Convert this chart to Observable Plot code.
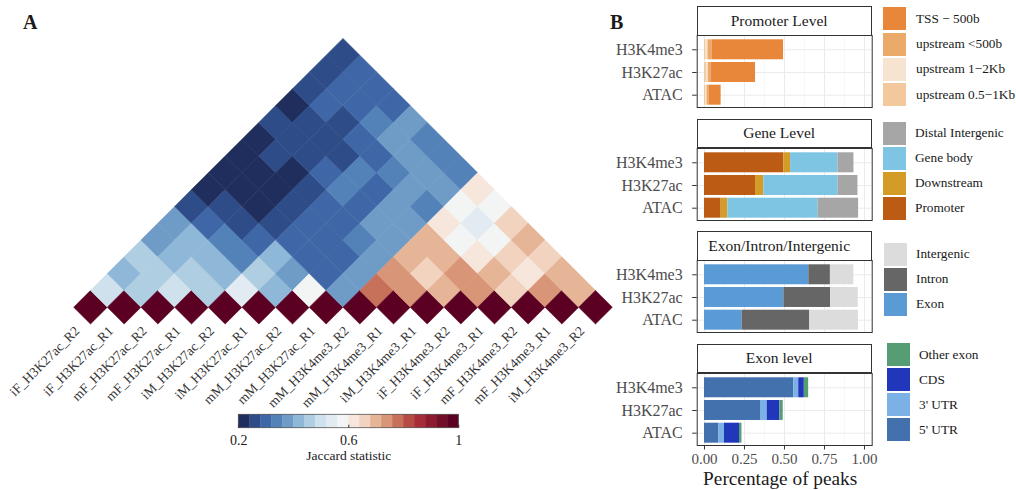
<!DOCTYPE html>
<html><head><meta charset="utf-8">
<script src="https://cdn.jsdelivr.net/npm/d3@7"></script>
<script src="https://cdn.jsdelivr.net/npm/@observablehq/plot@0.6"></script>
<style>
html,body{margin:0;padding:0;background:#fff;}
#root{position:relative;width:1016px;height:490px;overflow:hidden;background:#fff;font-family:"Liberation Serif","Times New Roman",serif;color:#1a1a1a;}
#root svg{position:absolute;}
.abs{position:absolute;white-space:nowrap;}
.strip{position:absolute;box-sizing:border-box;border:1px solid #333;background:#fff;display:flex;align-items:center;justify-content:center;font-size:15.5px;color:#1a1a1a;padding-right:10px;}
.sw{position:absolute;width:23px;height:23px;}
.lt{position:absolute;font-size:13.3px;color:#1a1a1a;white-space:nowrap;line-height:24px;height:24px;}
</style></head><body><div id="root"></div>
<script>
// ---------------- Panel A data ----------------
const sampleLabels = ["iF_H3K27ac_R2","iF_H3K27ac_R1","mF_H3K27ac_R2","mF_H3K27ac_R1","iM_H3K27ac_R2","iM_H3K27ac_R1","mM_H3K27ac_R2","mM_H3K27ac_R1","mM_H3K4me3_R2","mM_H3K4me3_R1","iM_H3K4me3_R1","iF_H3K4me3_R2","iF_H3K4me3_R1","mF_H3K4me3_R2","mF_H3K4me3_R1","iM_H3K4me3_R2"];
// upper triangle: row i lists Jaccard(i, j) for j = i+1 .. 15
const jaccardUpper = [
  [.50,.42,.46,.38,.38,.26,.22,.22,.22,.22,.26,.22,.26,.26,.26],
  [.46,.46,.42,.42,.30,.26,.22,.22,.26,.26,.26,.30,.30,.30],
  [.50,.46,.42,.34,.26,.22,.22,.22,.26,.26,.26,.30,.30],
  [.46,.42,.34,.30,.26,.26,.26,.30,.26,.30,.34,.30],
  [.54,.46,.42,.30,.30,.30,.34,.34,.30,.38,.38],
  [.42,.38,.30,.30,.30,.30,.30,.34,.38,.34],
  [.58,.30,.30,.34,.38,.38,.38,.38,.34],
  [.38,.38,.38,.38,.38,.34,.38,.34],
  [.78,.74,.70,.70,.62,.58,.62],
  [.74,.66,.70,.58,.54,.58],
  [.70,.74,.62,.58,.66],
  [.74,.70,.66,.70],
  [.66,.62,.66],
  [.74,.70],
  [.70],
  []
];
const selfJaccard = 1;
const jaccardBreaks = [0.24,0.28,0.32,0.36,0.40,0.44,0.48,0.52,0.56,0.60,0.64,0.68,0.72,0.76,0.80,0.84,0.88,0.92,0.96];
const jaccardColors = ["#1f2e5c","#2e4c87","#3f67a8","#5382b8","#6e9cc6","#8fb7d7","#b0cee2","#d0e1ee","#e3ebf2","#f3f5f4","#f6e6dc","#f1d3bf","#e6b496","#d99577","#c7705a","#b64b44","#a52d37","#8d1b30","#730e29","#5b0022"];
const legendTicks = [0.2, 0.6, 1];
const legendDomain = [0.2, 1];

// ---------------- Panel B data ----------------
const samples = ["H3K4me3","H3K27ac","ATAC"];
const majorTicks = [0, 0.25, 0.5, 0.75, 1];
const minorTicks = [0.125, 0.375, 0.625, 0.875];

const promoterCats = ["TSS \u2212 500b","upstream <500b","upstream 1\u22122Kb","upstream 0.5\u22121Kb"];
const promoterColors = ["#e8873a","#eba96a","#f7e4d0","#f3c89c"];
const promoterTSS = [0.447, 0.275, 0.076];
const promoterUp500 = [0.025, 0.020, 0.012];
const promoterUp1to2 = [0.012, 0.012, 0.008];
const promoterUp05to1 = [0.010, 0.012, 0.008];

const geneCats = ["Distal Intergenic","Gene body","Downstream","Promoter"];
const geneColors = ["#a6a6a6","#7ec5e4","#d49b27","#bb5b14"];
const geneDistal = [0.100, 0.123, 0.252];
const geneBody = [0.296, 0.465, 0.565];
const geneDownstream = [0.042, 0.052, 0.042];
const genePromoter = [0.496, 0.319, 0.104];

const eiiCats = ["Intergenic","Intron","Exon"];
const eiiColors = ["#dcdcdc","#666666","#5a9bd6"];
const eiiIntergenic = [0.146, 0.173, 0.304];
const eiiIntron = [0.135, 0.292, 0.423];
const eiiExon = [0.652, 0.496, 0.235];

const exonCats = ["Other exon","CDS","3' UTR","5' UTR"];
const exonColors = ["#579d73","#2137bb","#7bb1e4","#4271ae"];
const exonOther = [0.027, 0.021, 0.015];
const exonCDS = [0.035, 0.079, 0.094];
const exonUTR3 = [0.031, 0.042, 0.035];
const exonUTR5 = [0.558, 0.350, 0.090];

const root = document.getElementById("root");
const FONT = "Liberation Serif, Times New Roman, serif";
const colorOpts = {type: "threshold", domain: jaccardBreaks, range: jaccardColors};

function place(el, left, top) { el.style.left = left + "px"; el.style.top = top + "px"; root.appendChild(el); return el; }
function div(cls, text, left, top, css) {
  const d = document.createElement("div"); d.className = cls; d.textContent = text;
  if (css) Object.assign(d.style, css);
  return place(d, left, top);
}

// ---------------- Panel A: rotated heatmap ----------------
const cells = [];
sampleLabels.forEach((_, i) => {
  cells.push({i, j: i, v: selfJaccard});
  jaccardUpper[i].forEach((v, k) => cells.push({i, j: i + 1 + k, v}));
});
const xRange = [90, 595], yRange = [306.7, 54.7], n = sampleLabels.length - 1;
const hw = (xRange[1] - xRange[0]) / n / 2;
const hh = (yRange[0] - yRange[1]) / n;
const diamond = {draw(ctx) { ctx.moveTo(0, -hh); ctx.lineTo(hw, 0); ctx.lineTo(0, hh); ctx.lineTo(-hw, 0); ctx.closePath(); }};

const heat = Plot.plot({
  width: 615, height: 420, margin: 0,
  x: {domain: [0, n], range: xRange, axis: null},
  y: {domain: [0, n], range: yRange, axis: null},
  color: colorOpts,
  style: {background: "transparent", overflow: "visible", fontFamily: FONT},
  marks: [
    Plot.dot(cells, {x: d => (d.i + d.j) / 2, y: d => d.j - d.i, symbol: diamond, r: 10, fill: "v", stroke: "v", strokeWidth: 0.6}),
    Plot.text(sampleLabels, {x: (d, i) => i, y: () => -1, text: d => d, rotate: -45, textAnchor: "end", lineAnchor: "top", dx: -17, dy: 1, fontSize: 13.5, fill: "#333"})
  ]
});
place(heat, 0, 0);

// colour bar legend
const cbBins = jaccardColors.map((c, k) => ({lo: k === 0 ? legendDomain[0] : jaccardBreaks[k - 1], hi: k === jaccardBreaks.length ? legendDomain[1] : jaccardBreaks[k]}));
const cbar = Plot.plot({
  width: 240, height: 62, margin: 0,
  x: {domain: legendDomain, range: [8.3, 228.3], axis: null},
  y: {domain: [0, 1], range: [22.7, 9.3], axis: null},
  color: colorOpts,
  style: {background: "transparent", overflow: "visible", fontFamily: FONT},
  marks: [
    Plot.rect(cbBins, {x1: "lo", x2: "hi", y1: 0, y2: 1, fill: d => (d.lo + d.hi) / 2, stroke: d => (d.lo + d.hi) / 2, strokeWidth: 0.4}),
    Plot.rect([0], {x1: legendDomain[0], x2: legendDomain[1], y1: 0, y2: 1, fill: "none", stroke: "#555", strokeWidth: 0.8}),
    Plot.ruleX(legendTicks, {x: d => d, y1: 0, y2: 0.22, stroke: "#333", strokeWidth: 1}),
    Plot.text(legendTicks, {x: d => d, y: 0, dy: 12.5, text: d => String(d), fontSize: 14, fill: "#1a1a1a"}),
    Plot.text(["Jaccard statistic"], {x: 0.6, y: 0, dy: 27.5, text: d => d, fontSize: 13.5, fill: "#1a1a1a"})
  ]
});
place(cbar, 230, 405);

div("abs", "A", 23, 11.5, {fontSize: "20px", fontWeight: "bold", lineHeight: "20px"});
div("abs", "B", 610, 11.5, {fontSize: "20px", fontWeight: "bold", lineHeight: "20px"});

// ---------------- Panel B: stacked bars ----------------
const panels = [
  {title: "Promoter Level", cats: promoterCats, colors: promoterColors, values: [promoterTSS, promoterUp500, promoterUp1to2, promoterUp05to1], swLeft: 883.3, swTop: 7.3, pitch: 25.3, txLeft: 916},
  {title: "Gene Level", cats: geneCats, colors: geneColors, values: [geneDistal, geneBody, geneDownstream, genePromoter], swLeft: 882.7, swTop: 121.7, pitch: 25, txLeft: 915},
  {title: "Exon/Intron/Intergenic", cats: eiiCats, colors: eiiColors, values: [eiiIntergenic, eiiIntron, eiiExon], swLeft: 884, swTop: 242.7, pitch: 25, txLeft: 916},
  {title: "Exon level", cats: exonCats, colors: exonColors, values: [exonOther, exonCDS, exonUTR3, exonUTR5], swLeft: 887.3, swTop: 343.3, pitch: 25, txLeft: 919}
];

panels.forEach((p, k) => {
  const last = k === panels.length - 1;
  const stackOrder = p.cats.map((c, ci) => ci).reverse(); // first legend entry is stacked last (rightmost)
  const data = [];
  samples.forEach((s, si) => stackOrder.forEach(ci => data.push({sample: s, cat: p.cats[ci], value: p.values[ci][si]})));
  const areaTop = 35.3 + 112.5 * k;
  const areaH = 72;
  const h = last ? 490 - areaTop : areaH;
  const marks = [
    Plot.gridX(minorTicks, {stroke: "#f4f4f4", strokeOpacity: 1, strokeWidth: 0.6}),
    Plot.gridX(majorTicks, {stroke: "#ebebeb", strokeOpacity: 1, strokeWidth: 1}),
    Plot.gridY(samples, {stroke: "#ebebeb", strokeOpacity: 1, strokeWidth: 1}),
    Plot.barX(data, {x: "value", y: "sample", fill: "cat"}),
    Plot.frame({stroke: "#333", strokeWidth: 1}),
    Plot.axisY(samples, {tickSize: 4.5, tickPadding: 10, fontSize: 16, fill: "#4d4d4d", stroke: "#333", label: null})
  ];
  if (last) marks.push(Plot.axisX(majorTicks, {tickSize: 4.5, tickPadding: 3, fontSize: 15, fill: "#4d4d4d", stroke: "#333", tickFormat: d3.format(".2f"), label: null}));
  const chart = Plot.plot({
    width: 280, height: h,
    marginLeft: 96.7, marginRight: 8.3, marginTop: 0, marginBottom: h - areaH,
    x: {domain: [0, 1], range: [104, 264], axis: null},
    y: {type: "band", domain: samples, range: [2.94, 71.04], paddingInner: 0.12, paddingOuter: 0.06, align: 0.5, round: false, axis: null},
    color: {domain: p.cats, range: p.colors},
    style: {background: "transparent", overflow: "visible", fontFamily: FONT},
    marks
  });
  place(chart, 600, areaTop);
  div("strip", p.title, 696.7, 6 + 112.5 * k, {width: "175px", height: "29.8px"});
  p.cats.forEach((c, ci) => {
    const s = document.createElement("div"); s.className = "sw"; s.style.background = p.colors[ci];
    place(s, p.swLeft, p.swTop + ci * p.pitch);
    div("lt", c, p.txLeft, p.swTop + ci * p.pitch - 0.5);
  });
});

div("abs", "Percentage of peaks", 680.2, 469.3, {fontSize: "19.3px", lineHeight: "19.3px", width: "200px", textAlign: "center", color: "#1a1a1a"});
</script></body></html>
